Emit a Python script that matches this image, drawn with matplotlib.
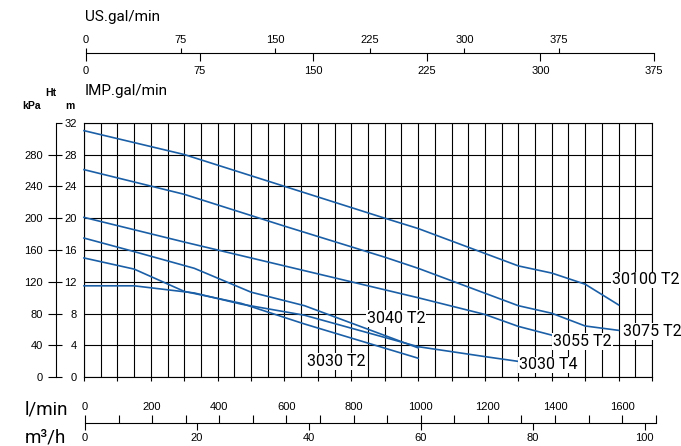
import numpy as np
import matplotlib
matplotlib.use("Agg")
import matplotlib.pyplot as plt

W, H = 681, 446

# pump curves: flow in l/min, head in m
flow_30100_t2 = [0, 300, 600, 900, 1000, 1300, 1400, 1500, 1600]
head_30100_t2 = [31.0, 28.0, 24.0, 20.0, 18.7, 14.0, 13.1, 11.7, 9.1]

flow_3075_t2 = [0, 300, 600, 900, 1000, 1300, 1400, 1500, 1600]
head_3075_t2 = [26.1, 23.0, 19.0, 15.1, 13.7, 9.0, 8.05, 6.45, 5.9]

flow_3055_t2 = [0, 300, 600, 900, 1000, 1200, 1300, 1400]
head_3055_t2 = [20.1, 17.0, 14.0, 11.0, 10.0, 7.9, 6.4, 5.3]

flow_3040_t2 = [0, 150, 330, 500, 660, 1000]
head_3040_t2 = [17.5, 15.8, 13.7, 10.7, 9.0, 3.7]

flow_3030_t2 = [0, 150, 300, 470, 660, 1000]
head_3030_t2 = [15.0, 13.6, 10.8, 9.3, 6.7, 2.4]

flow_3030_t4 = [0, 150, 330, 470, 660, 1000, 1200, 1300]
head_3030_t4 = [11.5, 11.5, 10.6, 9.2, 7.8, 3.85, 2.6, 2.0]

us_gal_ticks = [0, 75, 150, 225, 300, 375]
imp_gal_ticks = [0, 75, 150, 225, 300, 375]
lmin_ticks = [0, 200, 400, 600, 800, 1000, 1200, 1400, 1600]
m3h_ticks = [0, 20, 40, 60, 80, 100]
head_ticks = [0, 4, 8, 12, 16, 20, 24, 28, 32]
kpa_ticks = [0, 40, 80, 120, 160, 200, 240, 280]

BLUE = "#1b5fa7"
NUM = ["Liberation Sans", "DejaVu Sans"]
LABEL = ["Roboto", "DejaVu Sans"]

plt.rcParams["font.family"] = NUM
plt.rcParams["axes.linewidth"] = 0.8


def fx(x):
    return x / W


def fy(y):
    return 1 - y / H


fig = plt.figure(figsize=(W / 100, H / 100), dpi=100)

# main chart
ax = fig.add_axes([fx(84), fy(377.3), (652 - 84) / W, (377.3 - 122.7) / H])
ax.set_xlim(0, 1700)
ax.set_ylim(0, 32)
ax.set_xticks(np.arange(0, 1701, 100))
ax.set_xticks(np.arange(50, 1700, 100), minor=True)
ax.set_yticks(head_ticks)
ax.grid(True, which="both", color="k", lw=0.8)
ax.set_axisbelow(True)
ax.tick_params(axis="x", which="major", direction="out", length=3,
               width=0.8, labelbottom=False)
ax.tick_params(axis="x", which="minor", length=0)
ax.tick_params(axis="y", length=0, pad=5, labelsize=8)
for s in ax.spines.values():
    s.set_color("k")

curves = [
    (flow_30100_t2, head_30100_t2, "30100 T2", 1580, 12.25),
    (flow_3075_t2, head_3075_t2, "3075 T2", 1614, 5.75),
    (flow_3055_t2, head_3055_t2, "3055 T2", 1404, 4.5),
    (flow_3040_t2, head_3040_t2, "3040 T2", 846, 7.4),
    (flow_3030_t2, head_3030_t2, "3030 T2", 667, 2.0),
    (flow_3030_t4, head_3030_t4, "3030 T4", 1302, 1.55),
]
for flow, head, name, lx, ly in curves:
    ax.plot(flow, head, color=BLUE, lw=1.2, zorder=3, clip_on=False)
    ax.text(lx, ly, name, family=LABEL, fontsize=11.5, va="center", ha="left",
            zorder=4, clip_on=False,
            bbox=dict(facecolor="white", edgecolor="none", pad=0.6))

# kPa scale with the metre ticks on its inner side
axk = fig.add_axes([fx(55.7), fy(377.3), 1e-4, (377.3 - 122.7) / H])
axk.patch.set_visible(False)
for side in ["right", "top", "bottom"]:
    axk.spines[side].set_visible(False)
axk.set_xticks([])
axk.set_ylim(0, 320)
axk.set_yticks(kpa_ticks)
axk.set_yticks([h * 10 for h in head_ticks], minor=True)
axk.yaxis.remove_overlapping_locs = False
axk.tick_params(which="major", direction="out", length=6, width=0.8,
                labelsize=8, pad=3)
axk.tick_params(which="minor", direction="in", length=4.5, width=0.8)

# gallon scales on top
imp_per_us = 3.785411784 / 4.54609
axt = fig.add_axes([fx(86), fy(53.3), (654 - 86) / W, 1e-4])
axt.patch.set_visible(False)
for side in ["left", "right", "top"]:
    axt.spines[side].set_visible(False)
axt.set_yticks([])
axt.set_xlim(0, 375)
axt.set_xticks(imp_gal_ticks)
axt.tick_params(direction="out", length=6, width=0.8, labelsize=8, pad=3)
sec_us = axt.secondary_xaxis("top", functions=(lambda g: g / imp_per_us,
                                               lambda g: g * imp_per_us))
sec_us.set_xticks(us_gal_ticks)
sec_us.spines["top"].set_visible(False)
sec_us.tick_params(direction="out", length=3.6, width=0.8, labelsize=8, pad=2)

# flow scales at the bottom
axb = fig.add_axes([fx(85), fy(423.3), (655.7 - 85) / W, 1e-4])
axb.patch.set_visible(False)
for side in ["left", "right", "bottom"]:
    axb.spines[side].set_visible(False)
axb.set_yticks([])
axb.set_xlim(0, 1700)
axb.set_xticks(lmin_ticks)
axb.set_xticks(np.arange(100, 1701, 200), minor=True)
axb.tick_params(which="both", bottom=False, top=True, labelbottom=False,
                labeltop=True, direction="out", length=6, width=0.8,
                labelsize=8, pad=2)
sec_m3 = axb.secondary_xaxis("bottom", functions=(lambda q: q * 0.06,
                                                  lambda q: q / 0.06))
sec_m3.set_xticks(m3h_ticks)
sec_m3.spines["bottom"].set_visible(False)
sec_m3.tick_params(direction="out", length=5.3, width=0.8, labelsize=8, pad=2)

# axis titles
fig.text(fx(85), fy(17), "US.gal/min", family=LABEL, fontsize=11, va="center")
fig.text(fx(85), fy(90.5), "IMP.gal/min", family=LABEL, fontsize=11, va="center")
fig.text(fx(51), fy(93), "Ht", fontsize=7.5, weight="bold", ha="center", va="center")
fig.text(fx(32), fy(106), "kPa", fontsize=7.5, weight="bold", ha="center", va="center")
fig.text(fx(70), fy(106), "m", fontsize=7.5, weight="bold", ha="center", va="center")
fig.text(fx(25), fy(409), "l/min", family=LABEL, fontsize=13.5, va="center")
fig.text(fx(25), fy(437), "m³/h", family=LABEL, fontsize=13.5, va="center")

fig.savefig("out.png", dpi=100)
